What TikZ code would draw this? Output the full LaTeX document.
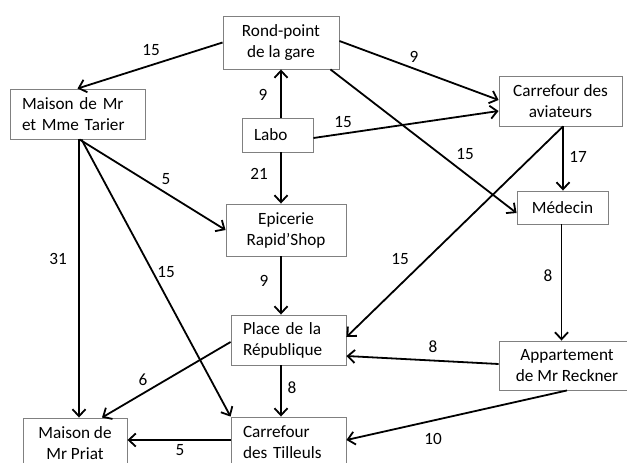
\documentclass[tikz,border=0pt]{standalone}
\usepackage{fontspec}
\setmainfont{Carlito}
\usetikzlibrary{arrows.meta}

\begin{document}
\begin{tikzpicture}[x=1pt, y=-1pt,
        lieu/.style={draw=black!50, line width=0.9pt, align=center, inner sep=0pt,
            font=\fontsize{17.2}{21}\selectfont},
        lieug/.style={lieu, align=left, inner xsep=12pt},
        route/.style={line width=1.8pt, -{Straight Barb[length=7pt,width=13pt]}},
        dist/.style={font=\fontsize{17.2}{21}\selectfont, inner sep=0pt}]
        \useasboundingbox (0,0) rectangle (627,463);
        \clip (0,0) rectangle (627,463);
        % les lieux
        \node[lieu, minimum width=116pt, minimum height=53pt] (rond) at (281,42.5) {Rond-point\\de la gare};
        \node[lieug, text width=111pt, minimum height=50pt] (tarier) at (77.5,114) {Maison de Mr\\et Mme Tarier};
        \node[lieug, text width=47pt, minimum height=34pt] (labo) at (277.5,135) {Labo};
        \node[lieu, minimum width=123pt, minimum height=50pt] (aviat) at (560.5,101) {Carrefour des\\aviateurs};
        \node[lieu, minimum width=91pt, minimum height=33pt] (medecin) at (562.5,207.5) {Médecin};
        \node[lieu, minimum width=120pt, minimum height=52pt] (epicerie) at (286,230) {Epicerie\\Rapid’Shop};
        \node[lieug, text width=91pt, minimum height=50pt] (place) at (288.5,340) {Place de la\\République};
        \node[lieu, minimum width=136pt, minimum height=49pt] (appart) at (567,365.5) {Appartement\\de Mr Reckner};
        \node[lieu, minimum width=104pt, minimum height=51pt] (priat) at (75,443.5) {Maison de\\Mr Priat};
        \node[lieug, text width=91pt, minimum height=50pt] (tilleuls) at (288.5,442) {Carrefour\\des Tilleuls};
        % les routes
        \draw[route] (rond.west) -- (tarier.north);
        \draw[route] ([xshift=3.5pt]labo.north) -- ([xshift=3.5pt]labo.north |- rond.south);
        \draw[route] ([xshift=3.5pt]labo.south) -- ([xshift=3.5pt]labo.south |- epicerie.north);
        \draw[route] ([yshift=1.5pt]rond.east) -- ([yshift=1pt]aviat.west);
        \draw[route] ([yshift=-3pt]labo.east) -- ([yshift=-10pt]aviat.west);
        \draw[route] ([xshift=-9pt]rond.south east) -- ([yshift=-5.5pt]medecin.west);
        \draw[route] ([xshift=0.5pt]medecin.north |- aviat.south) -- ([xshift=0.5pt]medecin.north);
        \draw[route] ([xshift=2.5pt]aviat.south) -- ([yshift=3pt]place.east);
        \draw[route] ([xshift=2pt]tarier.south) -- (epicerie.west);
        \draw[route] ([xshift=1.5pt]tarier.south) -- ([xshift=1.5pt]tarier.south |- priat.north);
        \draw[route] ([xshift=4pt]tarier.south) -- (tilleuls.north west);
        \draw[route] ([xshift=-7.5pt]place.north |- epicerie.south) -- ([xshift=-7.5pt]place.north);
        \draw[route] ([xshift=-1pt]medecin.south) -- ([xshift=-1pt]medecin.south |- appart.north);
        \draw[route] ([yshift=1.5pt]appart.west) -- ([yshift=-16pt]place.east);
        \draw[route] ([yshift=-2pt]place.west) -- ([xshift=27pt]priat.north);
        \draw[route] ([xshift=-7.5pt]place.south) -- ([xshift=-7.5pt]tilleuls.north);
        \draw[route] ([xshift=0pt]appart.south) -- ([yshift=2pt]tilleuls.east);
        \draw[route] ([yshift=2pt]tilleuls.west) -- ([yshift=2pt]tilleuls.west -| priat.east);
        % les distances
        \node[dist] (d1) at (151,50) {15};
        \node[dist] (d2) at (263,95) {9};
        \node[dist] (d3) at (259,174) {21};
        \node[dist] (d4) at (414,57) {9};
        \node[dist] (d5) at (343,122) {15};
        \node[dist] (d6) at (465,154) {15};
        \node[dist] (d7) at (578,157) {17};
        \node[dist] (d8) at (400,259) {15};
        \node[dist] (d9) at (166,179) {5};
        \node[dist] (d10) at (58,259) {31};
        \node[dist] (d11) at (166,272) {15};
        \node[dist] (d12) at (264,281) {9};
        \node[dist] (d13) at (548,276) {8};
        \node[dist] (d14) at (433,347) {8};
        \node[dist] (d15) at (143,380) {6};
        \node[dist] (d16) at (292,388) {8};
        \node[dist] (d17) at (433,439) {10};
        \node[dist] (d18) at (180,450) {5};
    \end{tikzpicture}
\end{document}
